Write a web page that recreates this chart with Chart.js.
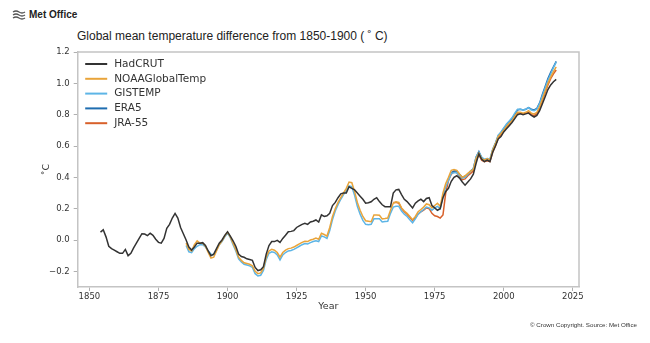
<!DOCTYPE html>
<html>
<head>
<meta charset="utf-8">
<script src="https://cdn.jsdelivr.net/npm/chart.js@4.4.0/dist/chart.umd.min.js"></script>
<style>
  html, body { margin: 0; padding: 0; background: #fff; }
  #wrap { position: relative; width: 650px; height: 343px; overflow: hidden; }
  #logo { position: absolute; left: 12px; top: 9px; font: bold 10px "Liberation Sans", Arial, sans-serif; color: #222; display: flex; align-items: center; }
  #logo svg { margin-right: 2px; }
  #title { position: absolute; left: 77px; top: 29px; font: 12px "Liberation Sans", Arial, sans-serif; color: #222; white-space: nowrap; }
  #credit { position: absolute; right: 13px; top: 321px; font: 6.2px "Liberation Sans", Arial, sans-serif; color: #333; white-space: nowrap; }
  canvas { position: absolute; left: 0; top: 0; }
</style>
</head>
<body>
<div id="wrap">
  <div id="logo">
    <svg width="15" height="10" viewBox="0 0 15 10">
      <path d="M1 2 Q4 0 7 2 T13 2" stroke="#555" stroke-width="1.3" fill="none"/>
      <path d="M1 5 Q4 3 7 5 T13 5" stroke="#555" stroke-width="1.3" fill="none"/>
      <path d="M1 8 Q4 6 7 8 T13 8" stroke="#555" stroke-width="1.3" fill="none"/>
    </svg>Met Office
  </div>
  <div id="title">Global mean temperature difference from 1850-1900 ( ˚ C)</div>
  <canvas id="chart" width="650" height="343"></canvas>
  <div id="credit">© Crown Copyright. Source: Met Office</div>
</div>
<script>
// series names and colours
const seriesNames = ["HadCRUT", "NOAAGlobalTemp", "GISTEMP", "ERA5", "JRA-55"];
const seriesColors = ["#333333", "#e9a43a", "#5db5e6", "#1f6db0", "#d8602a"];

// first year of each series
const hadStart = 1854;
const noaaStart = 1885;
const gissStart = 1885;
const era5Start = 1981;
const jraStart = 1960;

// smoothed anomalies (°C relative to 1850-1900), one value per year
const hadcrut = [
  0.05, 0.065, 0.02, -0.04, -0.055, -0.065, -0.075, -0.085, -0.085, -0.06,
  -0.10, -0.085, -0.05, -0.02, 0.01, 0.04, 0.038, 0.028, 0.043, 0.03,
  0.005, -0.015, -0.02, 0.01, 0.075, 0.10, 0.14, 0.17, 0.14, 0.08,
  0.04, 0.0, -0.045, -0.064, -0.045, -0.02, -0.02, -0.017, -0.035, -0.07,
  -0.10, -0.09, -0.055, -0.02, 0.0, 0.03, 0.053, 0.025, -0.005, -0.04,
  -0.09, -0.105, -0.11, -0.12, -0.125, -0.13, -0.175, -0.195, -0.19, -0.17,
  -0.09, -0.035, -0.01, -0.01, -0.002, -0.015, 0.01, 0.03, 0.053, 0.055,
  0.06, 0.08, 0.09, 0.10, 0.107, 0.10, 0.115, 0.12, 0.128, 0.115,
  0.16, 0.15, 0.155, 0.17, 0.22, 0.24, 0.27, 0.295, 0.30, 0.30,
  0.34, 0.33, 0.32, 0.30, 0.28, 0.26, 0.235, 0.238, 0.244, 0.26,
  0.27, 0.245, 0.225, 0.213, 0.213, 0.213, 0.30, 0.32, 0.323, 0.29,
  0.26, 0.245, 0.225, 0.205, 0.235, 0.25, 0.26, 0.245, 0.265, 0.27,
  0.22, 0.205, 0.19, 0.20, 0.27, 0.31, 0.33, 0.375, 0.40, 0.41,
  0.395, 0.37, 0.35, 0.37, 0.39, 0.42, 0.49, 0.55, 0.515, 0.50,
  0.51, 0.50, 0.56, 0.60, 0.645, 0.66, 0.69, 0.71, 0.73, 0.75,
  0.775, 0.80, 0.805, 0.80, 0.805, 0.81, 0.795, 0.785, 0.795, 0.825,
  0.87, 0.915, 0.96, 0.99, 1.01, 1.025
];

const noaa = [
  -0.02, -0.06, -0.07, -0.03, -0.005, -0.02, -0.02, -0.04, -0.08, -0.115,
  -0.11, -0.07, -0.03, -0.005, 0.025, 0.05, 0.02, -0.02, -0.06, -0.11,
  -0.13, -0.145, -0.15, -0.155, -0.165, -0.20, -0.215, -0.21, -0.18, -0.11,
  -0.07, -0.06, -0.065, -0.08, -0.11, -0.08, -0.065, -0.055, -0.052, -0.045,
  -0.035, -0.025, -0.015, -0.008, -0.01, 0.0, 0.005, 0.012, 0.005, 0.043,
  0.035, 0.025, 0.08, 0.15, 0.20, 0.24, 0.27, 0.30, 0.33, 0.37,
  0.366, 0.31, 0.24, 0.19, 0.15, 0.123, 0.12, 0.117, 0.16, 0.16,
  0.158, 0.135, 0.137, 0.14, 0.19, 0.234, 0.244, 0.24, 0.205, 0.185,
  0.17, 0.15, 0.13, 0.15, 0.18, 0.195, 0.21, 0.23, 0.225, 0.205,
  0.22, 0.234, 0.215, 0.30, 0.36, 0.40, 0.445, 0.45, 0.445, 0.42,
  0.40, 0.41, 0.425, 0.44, 0.45, 0.52, 0.555, 0.52, 0.51, 0.52,
  0.51, 0.575, 0.615, 0.66, 0.68, 0.70, 0.725, 0.745, 0.76, 0.79,
  0.815, 0.815, 0.81, 0.815, 0.825, 0.81, 0.805, 0.815, 0.85, 0.90,
  0.95, 1.00, 1.04, 1.075, 1.105
];

const gistemp = [
  -0.035, -0.075, -0.08, -0.055, -0.04, -0.03, -0.03, -0.045, -0.07, -0.09,
  -0.095, -0.065, -0.03, -0.01, 0.02, 0.045, 0.015, -0.03, -0.07, -0.12,
  -0.14, -0.155, -0.16, -0.165, -0.175, -0.215, -0.23, -0.225, -0.195, -0.125,
  -0.085, -0.075, -0.08, -0.095, -0.127, -0.095, -0.08, -0.07, -0.067, -0.06,
  -0.05, -0.04, -0.03, -0.022, -0.025, -0.017, -0.01, -0.005, -0.01, 0.026,
  0.02, 0.01, 0.06, 0.13, 0.185, 0.225, 0.26, 0.29, 0.315, 0.345,
  0.34, 0.285, 0.215, 0.165, 0.125, 0.10, 0.098, 0.10, 0.135, 0.135,
  0.135, 0.115, 0.118, 0.12, 0.17, 0.21, 0.215, 0.215, 0.185, 0.165,
  0.15, 0.13, 0.11, 0.135, 0.165, 0.18, 0.195, 0.21, 0.205, 0.19,
  0.205, 0.215, 0.20, 0.28, 0.34, 0.38, 0.425, 0.43, 0.43, 0.41,
  0.395, 0.40, 0.42, 0.44, 0.455, 0.53, 0.56, 0.53, 0.515, 0.52,
  0.515, 0.58, 0.62, 0.67, 0.69, 0.715, 0.74, 0.76, 0.78, 0.81,
  0.835, 0.835, 0.83, 0.835, 0.845, 0.83, 0.825, 0.835, 0.87, 0.92,
  0.97, 1.02, 1.06, 1.10, 1.135
];

const era5 = [
  0.43, 0.44, 0.44, 0.42, 0.40, 0.405, 0.42, 0.44, 0.455, 0.53,
  0.565, 0.525, 0.51, 0.515, 0.51, 0.575, 0.615, 0.665, 0.685, 0.71,
  0.735, 0.755, 0.775, 0.80, 0.83, 0.835, 0.83, 0.835, 0.845, 0.835,
  0.83, 0.84, 0.875, 0.93, 0.98, 1.03, 1.07, 1.105, 1.14
];

const jra55 = [
  0.24, 0.24, 0.235, 0.20, 0.18, 0.165, 0.145, 0.125, 0.14, 0.165,
  0.18, 0.19, 0.205, 0.20, 0.17, 0.155, 0.15, 0.14, 0.16, 0.30,
  0.38, 0.42, 0.435, 0.43, 0.405, 0.385, 0.39, 0.41, 0.425, 0.44,
  0.51, 0.545, 0.51, 0.50, 0.505, 0.50, 0.56, 0.60, 0.65, 0.67,
  0.695, 0.72, 0.74, 0.76, 0.785, 0.81, 0.81, 0.805, 0.81, 0.815,
  0.80, 0.795, 0.805, 0.84, 0.89, 0.94, 0.99, 1.03, 1.06, 1.085
];

// axis ticks
const xTicks = [1850, 1875, 1900, 1925, 1950, 1975, 2000, 2025];
const yTicks = [-0.2, 0.0, 0.2, 0.4, 0.6, 0.8, 1.0, 1.2];

function toPoints(start, vals) {
    return vals.map((v, i) => ({ x: start + i, y: v }));
}

const allSeries = [
    toPoints(hadStart, hadcrut),
    toPoints(noaaStart, noaa),
    toPoints(gissStart, gistemp),
    toPoints(era5Start, era5),
    toPoints(jraStart, jra55)
];

const datasets = allSeries.map((pts, i) => ({
    label: seriesNames[i],
    data: pts,
    borderColor: seriesColors[i],
    backgroundColor: seriesColors[i],
    borderWidth: 1.5,
    pointRadius: 0,
    tension: 0,
    fill: false
}));

// top + right frame and the in-plot legend
const framePlugin = {
    id: 'frame',
    afterDatasetsDraw(chart) {
        const { ctx, chartArea: a } = chart;
        ctx.save();
        ctx.strokeStyle = '#c4c4c4';
        ctx.lineWidth = 1.5;
        ctx.beginPath();
        ctx.moveTo(a.left, a.top);
        ctx.lineTo(a.right, a.top);
        ctx.lineTo(a.right, a.bottom);
        ctx.stroke();

        ctx.font = '10.5px "DejaVu Sans"';
        ctx.textBaseline = 'middle';
        ctx.fillStyle = '#333';
        seriesNames.forEach((name, i) => {
            const y = a.top + 12 + i * 14.8;
            ctx.strokeStyle = seriesColors[i];
            ctx.lineWidth = 2;
            ctx.beginPath();
            ctx.moveTo(a.left + 7.5, y);
            ctx.lineTo(a.left + 29.5, y);
            ctx.stroke();
            ctx.fillText(name, a.left + 36.5, y);
        });
        ctx.restore();
    }
};

const tickFont = { family: 'DejaVu Sans', size: 8.5 };

new Chart(document.getElementById('chart'), {
    type: 'line',
    data: { datasets: datasets },
    options: {
        responsive: false,
        animation: false,
        layout: { padding: { left: 35, right: 71, top: 52, bottom: 31 } },
        plugins: { legend: { display: false }, tooltip: { enabled: false } },
        scales: {
            x: {
                type: 'linear',
                min: 1845.75,
                max: 2027.25,
                afterFit: s => { s.height = 25; },
                afterBuildTicks: s => { s.ticks = xTicks.map(v => ({ value: v })); },
                ticks: {
                    includeBounds: false,
                    font: tickFont,
                    color: '#333',
                    padding: 1,
                    maxRotation: 0,
                    callback: v => String(v)
                },
                grid: { drawOnChartArea: false, tickLength: 4, color: '#b0b0b0' },
                border: { color: '#c4c4c4', width: 1.5 },
                title: { display: true, text: 'Year', font: { family: 'DejaVu Sans', size: 9.5 }, color: '#333', padding: { top: 0, bottom: 0 } }
            },
            y: {
                min: -0.3,
                max: 1.2,
                afterFit: s => { s.width = 42.7; },
                afterBuildTicks: s => { s.ticks = yTicks.map(v => ({ value: v })); },
                ticks: {
                    font: tickFont,
                    color: '#333',
                    padding: 4,
                    callback: v => v.toFixed(1).replace('-', '\u2212')
                },
                grid: { drawOnChartArea: false, tickLength: 4, color: '#b0b0b0' },
                border: { color: '#c4c4c4', width: 1.5 },
                title: { display: true, text: '˚C', font: { family: 'DejaVu Sans', size: 9.5 }, color: '#333', padding: { top: 6, bottom: 0 } }
            }
        }
    },
    plugins: [framePlugin]
});
</script>
</body>
</html>
